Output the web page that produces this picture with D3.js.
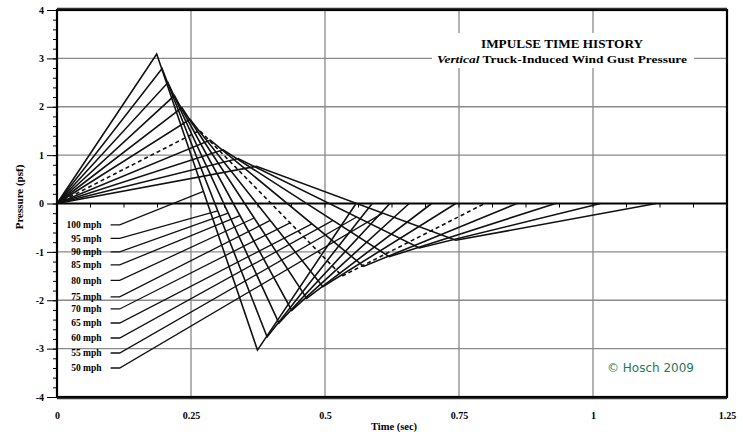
<!DOCTYPE html>
<html>
<head>
<meta charset="utf-8">
<script src="https://cdn.jsdelivr.net/npm/d3@7"></script>
<style>
    body { margin: 0; background: #ffffff; }
    .tick text { font-family: "Liberation Serif", "DejaVu Serif", serif; font-weight: bold; }
</style>
</head>
<body>
<div id="chart"></div>
<script>

// speeds, one impulse per speed
var speeds = ["100 mph", "95 mph", "90 mph", "85 mph", "80 mph", "75 mph",
              "70 mph", "65 mph", "60 mph", "55 mph", "50 mph"];

// positive peak of each impulse (sec, psf)
var peakTime = [0.186, 0.196, 0.207, 0.219, 0.233, 0.248, 0.266, 0.286, 0.310, 0.338, 0.372];
var peakPressure = [3.09, 2.79, 2.50, 2.23, 1.98, 1.74, 1.51, 1.31, 1.11, 0.93, 0.77];

// negative peak of each impulse (sec, psf)
var troughTime = [0.374, 0.392, 0.414, 0.438, 0.466, 0.496, 0.532, 0.572, 0.620, 0.676, 0.744];
var troughPressure = [-3.03, -2.76, -2.47, -2.21, -1.96, -1.72, -1.50, -1.30, -1.10, -0.92, -0.76];

// time where the impulse is back to zero
var endTime = [0.558, 0.588, 0.621, 0.657, 0.699, 0.744, 0.798, 0.858, 0.930, 1.014, 1.118];

// label height and the pressure where each leader line meets its impulse
var labelPressure = [-0.44, -0.72, -1.0, -1.27, -1.59, -1.93, -2.18, -2.47, -2.78, -3.09, -3.4];
var leaderPressure = [0.25, -0.15, -0.2, -0.25, -0.3, -0.35, -0.4, -0.42, -0.35, -0.28, -0.2];

// the one impulse that is drawn dashed
var dashedSpeed = "70 mph";

// tick labels
var timeTicks = [0, 0.25, 0.5, 0.75, 1, 1.25];
var pressureTicks = [-4, -3, -2, -1, 0, 1, 2, 3, 4];

var width = 743, height = 432;
var plotLeft = 57, plotRight = 727, plotTop = 10, plotBottom = 397;
var serif = "'Liberation Serif', 'DejaVu Serif', serif";

var svg = d3.select("#chart").append("svg")
    .attr("width", width)
    .attr("height", height);

var x = d3.scaleLinear().domain([0, 1.25]).range([plotLeft, plotRight]);
var y = d3.scaleLinear().domain([-4, 4]).range([plotBottom, plotTop]);

// build the points of one impulse
function impulsePoints(i) {
    return [[0, 0],
            [peakTime[i], peakPressure[i]],
            [troughTime[i], troughPressure[i]],
            [endTime[i], 0]];
};

// time on the falling part of an impulse at a given pressure
function fallingTime(i, p) {
    var f = (peakPressure[i] - p) / (peakPressure[i] - troughPressure[i]);
    return peakTime[i] + f * (troughTime[i] - peakTime[i]);
};

// gridlines
svg.append("g").selectAll("line")
    .data(timeTicks.filter(function(d) { return d > 0 && d < 1.25; }))
    .enter().append("line")
    .attr("x1", function(d) { return x(d); })
    .attr("x2", function(d) { return x(d); })
    .attr("y1", plotTop)
    .attr("y2", plotBottom)
    .attr("stroke", "#8a8a8a")
    .attr("stroke-width", 1.3);

svg.append("g").selectAll("line")
    .data(pressureTicks.filter(function(d) { return d > -4 && d < 4 && d != 0; }))
    .enter().append("line")
    .attr("x1", plotLeft)
    .attr("x2", plotRight)
    .attr("y1", function(d) { return y(d); })
    .attr("y2", function(d) { return y(d); })
    .attr("stroke", "#8a8a8a")
    .attr("stroke-width", 1.3);

// white box behind the title
svg.append("rect")
    .attr("x", 432)
    .attr("y", 33)
    .attr("width", 262)
    .attr("height", 35)
    .attr("fill", "#ffffff");

// title
svg.append("text")
    .attr("x", 562)
    .attr("y", 48)
    .attr("text-anchor", "middle")
    .attr("font-family", serif)
    .attr("font-weight", "bold")
    .attr("font-size", 11.5)
    .attr("textLength", 162)
    .attr("lengthAdjust", "spacingAndGlyphs")
    .text("IMPULSE TIME HISTORY");

var sub = svg.append("text")
    .attr("x", 562)
    .attr("y", 63)
    .attr("text-anchor", "middle")
    .attr("font-family", serif)
    .attr("font-weight", "bold")
    .attr("font-size", 11)
    .attr("textLength", 250)
    .attr("lengthAdjust", "spacingAndGlyphs");
sub.append("tspan").attr("font-style", "italic").text("Vertical");
sub.append("tspan").text(" Truck-Induced Wind Gust Pressure");

// zero line with small ticks
svg.append("line")
    .attr("x1", plotLeft)
    .attr("x2", plotRight)
    .attr("y1", y(0))
    .attr("y2", y(0))
    .attr("stroke", "#000")
    .attr("stroke-width", 2.2);

svg.append("g").selectAll("line")
    .data(d3.range(0.0625, 1.25, 0.0625))
    .enter().append("line")
    .attr("x1", function(d) { return x(d); })
    .attr("x2", function(d) { return x(d); })
    .attr("y1", y(0))
    .attr("y2", y(0) + 4)
    .attr("stroke", "#000")
    .attr("stroke-width", 1);

// impulse lines
var line = d3.line()
    .x(function(d) { return x(d[0]); })
    .y(function(d) { return y(d[1]); });

svg.append("g").selectAll("path")
    .data(speeds)
    .enter().append("path")
    .attr("d", function(d, i) { return line(impulsePoints(i)); })
    .attr("fill", "none")
    .attr("stroke", "#111")
    .attr("stroke-width", 1.6)
    .attr("stroke-linejoin", "miter")
    .attr("stroke-dasharray", function(d) { return d == dashedSpeed ? "4,3" : null; });

// leader lines from the labels to the impulses
svg.append("g").selectAll("path")
    .data(speeds)
    .enter().append("path")
    .attr("d", function(d, i) {
        return line([[0.1, labelPressure[i]],
                     [0.117, labelPressure[i]],
                     [fallingTime(i, leaderPressure[i]), leaderPressure[i]]]);
    })
    .attr("fill", "none")
    .attr("stroke", "#111")
    .attr("stroke-width", 1.3);

// speed labels
svg.append("g").selectAll("text")
    .data(speeds)
    .enter().append("text")
    .attr("x", x(0.083))
    .attr("y", function(d, i) { return y(labelPressure[i]) + 3.5; })
    .attr("text-anchor", "end")
    .attr("font-family", serif)
    .attr("font-weight", "bold")
    .attr("font-size", 9.5)
    .text(function(d) { return d; });

// y axis
svg.append("g")
    .attr("transform", "translate(" + plotLeft + ",0)")
    .call(d3.axisLeft(y).tickValues(d3.range(-4, 4.01, 0.2)).tickSize(4).tickFormat(""))
    .call(function(g) { g.select(".domain").remove(); });

svg.append("g")
    .attr("transform", "translate(" + plotLeft + ",0)")
    .call(d3.axisLeft(y).tickValues(pressureTicks).tickSize(10).tickPadding(3)
        .tickFormat(function(d) { return String(d); }))
    .call(function(g) {
        g.select(".domain").remove();
        g.selectAll("text").attr("font-size", 10);
    });

// x axis labels
svg.append("g")
    .attr("transform", "translate(0," + plotBottom + ")")
    .call(d3.axisBottom(x).tickValues(timeTicks).tickSize(0).tickPadding(15)
        .tickFormat(function(d) { return String(d); }))
    .call(function(g) {
        g.select(".domain").remove();
        g.selectAll("text").attr("font-size", 10);
    });

// plot frame
svg.append("rect")
    .attr("x", plotLeft)
    .attr("y", plotTop)
    .attr("width", plotRight - plotLeft)
    .attr("height", plotBottom - plotTop)
    .attr("fill", "none")
    .attr("stroke", "#000")
    .attr("stroke-width", 2.2);

svg.append("line")
    .attr("x1", plotLeft)
    .attr("x2", plotRight)
    .attr("y1", plotTop - 1.5)
    .attr("y2", plotTop - 1.5)
    .attr("stroke", "#333")
    .attr("stroke-width", 1.5);

svg.append("line")
    .attr("x1", plotLeft)
    .attr("x2", plotRight)
    .attr("y1", plotBottom + 1.5)
    .attr("y2", plotBottom + 1.5)
    .attr("stroke", "#333")
    .attr("stroke-width", 1.5);

// axis titles
svg.append("text")
    .attr("x", 394)
    .attr("y", 430)
    .attr("text-anchor", "middle")
    .attr("font-family", serif)
    .attr("font-weight", "bold")
    .attr("font-size", 10.5)
    .text("Time (sec)");

svg.append("text")
    .attr("transform", "translate(23,197) rotate(-90)")
    .attr("text-anchor", "middle")
    .attr("font-family", serif)
    .attr("font-weight", "bold")
    .attr("font-size", 11)
    .text("Pressure (psf)");

// copyright note
svg.append("text")
    .attr("x", 607)
    .attr("y", 372)
    .attr("font-family", "'DejaVu Sans', sans-serif")
    .attr("font-size", 12)
    .attr("fill", "#1d7a58")
    .text("\u00a9 Hosch 2009");

</script>
</body>
</html>
